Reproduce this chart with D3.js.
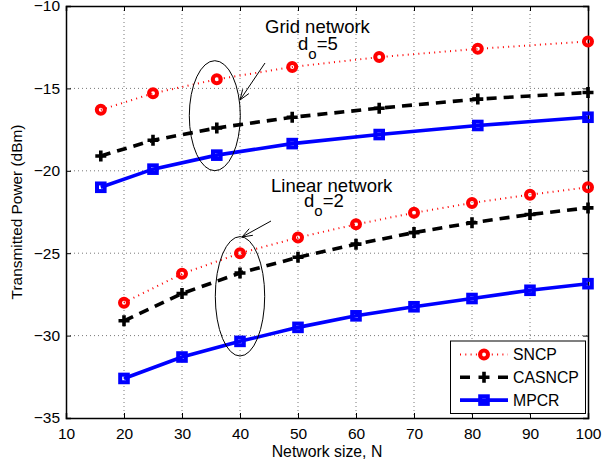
<!DOCTYPE html>
<html>
<head>
<meta charset="utf-8">
<script src="https://cdn.jsdelivr.net/npm/d3@7"></script>
<style>
  html, body { margin: 0; padding: 0; background: #fff; }
  svg { display: block; font-family: Arial, "Liberation Sans", Helvetica, sans-serif; }
</style>
</head>
<body>
<svg id="chart" width="603" height="467"></svg>
<script>
// Network sizes for the two topologies
const gridN = [16, 25, 36, 49, 64, 81, 100];
const linearN = [20, 30, 40, 50, 60, 70, 80, 90, 100];

// Transmitted power (dBm), grid network, d_o = 5
const gridSNCP   = [-16.3, -15.3, -14.45, -13.7, -13.1, -12.6, -12.15];
const gridCASNCP = [-19.1, -18.15, -17.4, -16.75, -16.2, -15.65, -15.25];
const gridMPCR   = [-21.0, -19.9, -19.05, -18.35, -17.8, -17.25, -16.75];

// Transmitted power (dBm), linear network, d_o = 2
const linSNCP   = [-28.0, -26.25, -25.0, -24.05, -23.25, -22.55, -21.95, -21.45, -21.0];
const linCASNCP = [-29.1, -27.45, -26.2, -25.25, -24.45, -23.75, -23.15, -22.65, -22.25];
const linMPCR   = [-32.6, -31.3, -30.35, -29.5, -28.8, -28.25, -27.75, -27.25, -26.85];

const xTicks = [10, 20, 30, 40, 50, 60, 70, 80, 90, 100];
const yTicks = [-35, -30, -25, -20, -15, -10];
const seriesNames = ["SNCP", "CASNCP", "MPCR"];

const svg = d3.select("#chart");
const m = { left: 66, top: 6, right: 588, bottom: 418 };

const x = d3.scaleLinear().domain([10, 100]).range([m.left, m.right]);
const y = d3.scaleLinear().domain([-35, -10]).range([m.bottom, m.top]);

const fmt = d => (d < 0 ? "\u2212" + Math.abs(d) : String(d));

// dotted grid
const grid = svg.append("g").attr("stroke", "#555").attr("stroke-width", 0.8)
  .attr("stroke-dasharray", "1,3");
grid.selectAll(".gx").data(xTicks.slice(1, -1)).join("line")
  .attr("x1", d => x(d)).attr("x2", d => x(d))
  .attr("y1", m.top).attr("y2", m.bottom);
grid.selectAll(".gy").data(yTicks.slice(1, -1)).join("line")
  .attr("x1", m.left).attr("x2", m.right)
  .attr("y1", d => y(d)).attr("y2", d => y(d));

// axes with inward ticks
const axB = svg.append("g").attr("transform", `translate(0,${m.bottom})`)
  .call(d3.axisBottom(x).tickValues(xTicks).tickSize(-5).tickPadding(10).tickFormat(fmt));
const axL = svg.append("g").attr("transform", `translate(${m.left},0)`)
  .call(d3.axisLeft(y).tickValues(yTicks).tickSize(-5).tickPadding(6).tickFormat(fmt));
const axT = svg.append("g").attr("transform", `translate(0,${m.top})`)
  .call(d3.axisTop(x).tickValues(xTicks).tickSize(-5).tickFormat(""));
const axR = svg.append("g").attr("transform", `translate(${m.right},0)`)
  .call(d3.axisRight(y).tickValues(yTicks).tickSize(-5).tickFormat(""));
[axB, axL, axT, axR].forEach(a => {
  a.select(".domain").attr("stroke", "#000").attr("stroke-width", 1.5);
  a.selectAll(".tick line").attr("stroke", "#000").attr("stroke-width", 1);
  a.selectAll(".tick text").attr("fill", "#000").attr("font-size", 15.5)
    .attr("font-family", "Arial, 'Liberation Sans', sans-serif");
});

// axis titles
svg.append("text").attr("x", (m.left + m.right) / 2).attr("y", 457)
  .attr("text-anchor", "middle").attr("font-size", 15.8).text("Network size, N");
svg.append("text").attr("transform", `translate(22,${(m.top + m.bottom) / 2}) rotate(-90)`)
  .attr("text-anchor", "middle").attr("font-size", 15.4).text("Transmitted Power (dBm)");

// series styles
const styles = {
  SNCP:   { color: "#ff0000", width: 2,   dash: "1,4.3", marker: "circle" },
  CASNCP: { color: "#000000", width: 3.6, dash: "10,7",  marker: "plus" },
  MPCR:   { color: "#0000ff", width: 3.6, dash: null,    marker: "square" }
};

function drawMarker(g, type, color) {
  if (type === "circle") {
    g.append("circle").attr("r", 4).attr("fill", "none")
      .attr("stroke", color).attr("stroke-width", 4);
  } else if (type === "plus") {
    g.append("path").attr("d", "M-5.5,0H5.5M0,-5.5V5.5")
      .attr("stroke", color).attr("stroke-width", 3.6).attr("fill", "none");
  } else {
    g.append("rect").attr("x", -3.8).attr("y", -3.8).attr("width", 7.6).attr("height", 7.6)
      .attr("fill", "none").attr("stroke", color).attr("stroke-width", 4);
  }
}

const line = d3.line().x(d => x(d[0])).y(d => y(d[1]));

function drawSeries(xs, ys, name) {
  const s = styles[name];
  const pts = xs.map((v, i) => [v, ys[i]]);
  const g = svg.append("g");
  g.append("path").datum(pts).attr("d", line).attr("fill", "none")
    .attr("stroke", s.color).attr("stroke-width", s.width)
    .attr("stroke-dasharray", s.dash);
  pts.forEach(p => {
    const mg = g.append("g").attr("transform", `translate(${x(p[0])},${y(p[1])})`);
    drawMarker(mg, s.marker, s.color);
  });
}

drawSeries(gridN, gridSNCP, "SNCP");
drawSeries(gridN, gridCASNCP, "CASNCP");
drawSeries(gridN, gridMPCR, "MPCR");
drawSeries(linearN, linSNCP, "SNCP");
drawSeries(linearN, linCASNCP, "CASNCP");
drawSeries(linearN, linMPCR, "MPCR");

// annotations: ellipses around N=36 (grid) and N=40 (linear), with arrows
const ann = svg.append("g").attr("fill", "none").attr("stroke", "#000").attr("stroke-width", 1);
ann.append("ellipse").attr("cx", x(36) - 2).attr("cy", 115.7).attr("rx", 25.5).attr("ry", 55);
ann.append("ellipse").attr("cx", x(40)).attr("cy", 296.3).attr("rx", 24.7).attr("ry", 59.7);

function arrow(x1, y1, x2, y2) {
  ann.append("line").attr("x1", x1).attr("y1", y1).attr("x2", x2).attr("y2", y2);
  const a = Math.atan2(y2 - y1, x2 - x1), L = 11, w = 0.35;
  const p1 = [x2 - L * Math.cos(a - w), y2 - L * Math.sin(a - w)];
  const p2 = [x2 - L * Math.cos(a + w), y2 - L * Math.sin(a + w)];
  ann.append("path").attr("d", `M${p1}L${x2},${y2}L${p2}`);
}
arrow(265, 63, 240, 100);
arrow(271, 221, 242, 237);

// two-line annotation: network name, then d_o value
function label(tx, ty, title, dx, dy, val) {
  const t = svg.append("text").attr("font-size", 18.5).attr("fill", "#000");
  t.append("tspan").attr("x", tx).attr("y", ty).text(title);
  t.append("tspan").attr("x", dx).attr("y", dy).text("d");
  t.append("tspan").attr("dy", 9).attr("font-size", 15).text("o");
  t.append("tspan").attr("dy", -9).text("=" + val);
}
label(265, 33, "Grid network", 298, 49.5, 5);
label(271, 192, "Linear network", 304, 207, 2);

// legend
const lg = svg.append("g");
lg.append("rect").attr("x", 450.5).attr("y", 341).attr("width", 135).attr("height", 72.5)
  .attr("fill", "#fff").attr("stroke", "#000").attr("stroke-width", 1);
seriesNames.forEach((name, i) => {
  const s = styles[name];
  const cy = 354.5 + i * 22.8;
  lg.append("line").attr("x1", 460).attr("x2", 508).attr("y1", cy).attr("y2", cy)
    .attr("stroke", s.color).attr("stroke-width", s.width)
    .attr("stroke-dasharray", name === "CASNCP" ? "10,28,10" : s.dash);
  drawMarker(lg.append("g").attr("transform", `translate(484,${cy})`), s.marker, s.color);
  lg.append("text").attr("x", 513).attr("y", cy + 5.8).attr("font-size", 15.8).text(name);
});
</script>
</body>
</html>
